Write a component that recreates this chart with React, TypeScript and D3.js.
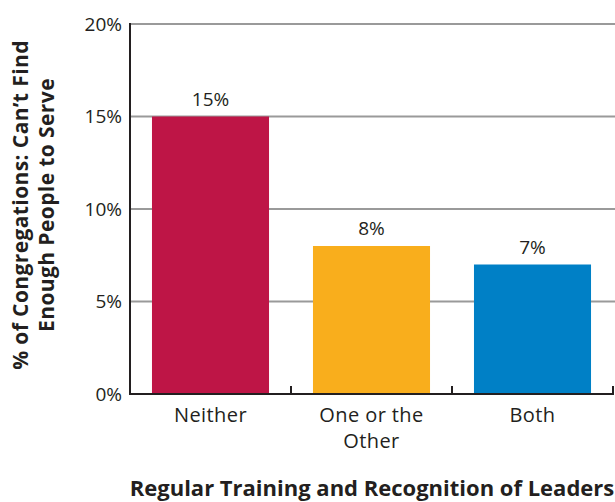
import React from "react";
import * as d3 from "d3";

const categories = ["Neither", "One or the Other", "Both"];
const categoryLines = [["Neither"], ["One or the", "Other"], ["Both"]];
const values = [15, 8, 7];
const colors = ["#BE1546", "#F9AE1C", "#0080C6"];
const yTicks = [0, 5, 10, 15, 20];
const yTitle = ["% of Congregations: Can\u2019t Find", "Enough People to Serve"];
const xTitle = "Regular Training and Recognition of Leaders";

const width = 615;
const height = 502;
const margin = { top: 24, right: 2, bottom: 108, left: 130 };
const font = "'Open Sans', sans-serif";
const ink = "#231f20";

const App: React.FC = () => {
  const svgRef = React.useRef<SVGSVGElement | null>(null);

  React.useEffect(() => {
    if (!svgRef.current) return;
    const svg = d3.select(svgRef.current);
    svg.selectAll("*").remove();

    const innerWidth = width - margin.left - margin.right;
    const innerHeight = height - margin.top - margin.bottom;

    const x = d3.scaleBand().domain(categories).range([0, innerWidth]);
    const y = d3.scaleLinear().domain([0, 20]).range([innerHeight, 0]);
    const barWidth = x.bandwidth() * 0.727;

    const g = svg
      .append("g")
      .attr("transform", `translate(${margin.left}, ${margin.top})`);

    // gridlines
    g.selectAll(".grid")
      .data(yTicks.filter((d) => d > 0))
      .join("line")
      .attr("x1", 0)
      .attr("x2", width - margin.left)
      .attr("y1", (d) => y(d))
      .attr("y2", (d) => y(d))
      .attr("stroke", "#9a9a9a")
      .attr("stroke-width", 2);

    // bars
    g.selectAll(".bar")
      .data(values)
      .join("rect")
      .attr("x", (d, i) => x(categories[i])! + (x.bandwidth() - barWidth) / 2)
      .attr("y", (d) => y(d))
      .attr("width", barWidth)
      .attr("height", (d) => innerHeight - y(d))
      .attr("fill", (d, i) => colors[i]);

    // value labels
    g.selectAll(".val")
      .data(values)
      .join("text")
      .attr("x", (d, i) => x(categories[i])! + x.bandwidth() / 2)
      .attr("y", (d) => y(d) - 11)
      .attr("text-anchor", "middle")
      .attr("font-family", font)
      .attr("font-size", 19)
      .attr("fill", ink)
      .text((d) => `${d}%`);

    // y axis
    g.append("line")
      .attr("x1", 0)
      .attr("x2", 0)
      .attr("y1", y(20) - 1)
      .attr("y2", innerHeight + 1)
      .attr("stroke", ink)
      .attr("stroke-width", 2);

    g.selectAll(".ytick")
      .data(yTicks)
      .join("text")
      .attr("x", -8)
      .attr("y", (d) => y(d))
      .attr("dy", "0.36em")
      .attr("text-anchor", "end")
      .attr("font-family", font)
      .attr("font-size", 19)
      .attr("fill", ink)
      .text((d) => `${d}%`);

    // x axis
    g.append("line")
      .attr("x1", -1)
      .attr("x2", innerWidth + 1)
      .attr("y1", innerHeight)
      .attr("y2", innerHeight)
      .attr("stroke", ink)
      .attr("stroke-width", 2);

    g.selectAll(".xtick")
      .data(categories)
      .join("line")
      .attr("x1", (d) => x(d)! + x.bandwidth())
      .attr("x2", (d) => x(d)! + x.bandwidth())
      .attr("y1", innerHeight)
      .attr("y2", innerHeight - 8)
      .attr("stroke", ink)
      .attr("stroke-width", 2);

    const cat = g
      .selectAll(".cat")
      .data(categoryLines)
      .join("text")
      .attr("text-anchor", "middle")
      .attr("font-family", font)
      .attr("font-size", 20)
      .attr("letter-spacing", 0.4)
      .attr("fill", ink);
    cat.each(function (lines, i) {
      d3.select(this)
        .selectAll("tspan")
        .data(lines)
        .join("tspan")
        .attr("x", x(categories[i])! + x.bandwidth() / 2)
        .attr("y", (d, j) => innerHeight + 28 + j * 26)
        .text((d) => d);
    });

    // axis titles
    svg
      .append("text")
      .attr("x", 372)
      .attr("y", 496)
      .attr("text-anchor", "middle")
      .attr("font-family", font)
      .attr("font-weight", "bold")
      .attr("font-size", 22)
      .attr("fill", ink)
      .text(xTitle);

    svg
      .append("text")
      .attr("transform", "translate(0, 205) rotate(-90)")
      .attr("text-anchor", "middle")
      .attr("font-family", font)
      .attr("font-weight", "bold")
      .attr("font-size", 21)
      .attr("letter-spacing", 0.4)
      .attr("fill", ink)
      .selectAll("tspan")
      .data(yTitle)
      .join("tspan")
      .attr("x", 0)
      .attr("y", (d, i) => 28 + i * 26)
      .text((d) => d);
  }, []);

  return (
    <svg
      ref={svgRef}
      width={width}
      height={height}
      style={{ position: "absolute", left: 0, top: 0, background: "#fff" }}
    ></svg>
  );
};

export default App;
